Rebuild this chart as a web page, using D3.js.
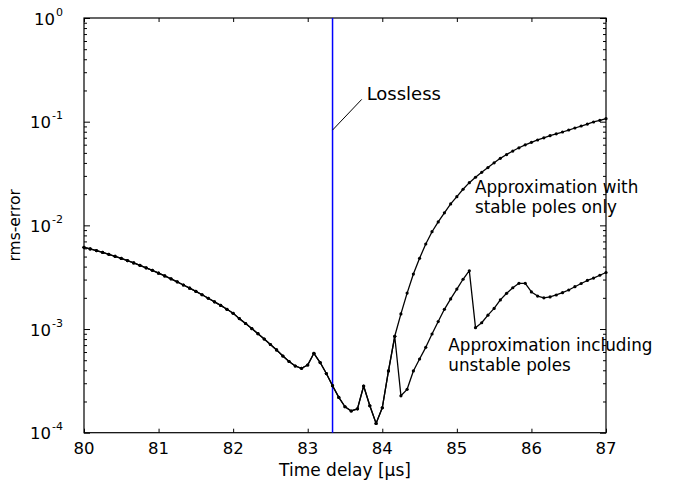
<!DOCTYPE html>
<html>
<head>
<meta charset="utf-8">
<script src="https://cdn.jsdelivr.net/npm/d3@7"></script>
<style>
  html, body { margin: 0; padding: 0; background: #fff; }
  svg text { font-family: "DejaVu Sans", "Liberation Sans", sans-serif; fill: #000; }
</style>
</head>
<body>
<svg id="chart" width="679" height="487"></svg>
<script>
// ---- data ----
const xTicks = [80, 81, 82, 83, 84, 85, 86, 87];
const yTickExponents = [0, -1, -2, -3, -4];
const losslessDelay = 83.333;

// time delay samples [µs]
const times = [
  80.000, 80.083, 80.167, 80.250, 80.333, 80.417, 80.500, 80.583, 80.667, 80.750, 80.833, 80.917,
  81.000, 81.083, 81.167, 81.250, 81.333, 81.417, 81.500, 81.583, 81.667, 81.750, 81.833, 81.917,
  82.000, 82.083, 82.167, 82.250, 82.333, 82.417, 82.500, 82.583, 82.667, 82.750, 82.833, 82.917,
  83.000, 83.083, 83.167, 83.250, 83.333, 83.417, 83.500, 83.583, 83.667, 83.750, 83.833, 83.917,
  84.000, 84.083, 84.167, 84.250, 84.333, 84.417, 84.500, 84.583, 84.667, 84.750, 84.833, 84.917,
  85.000, 85.083, 85.167, 85.250, 85.333, 85.417, 85.500, 85.583, 85.667, 85.750, 85.833, 85.917,
  86.000, 86.083, 86.167, 86.250, 86.333, 86.417, 86.500, 86.583, 86.667, 86.750, 86.833, 86.917,
  87.000
];

// rms-error common to both approximations (80.000 ... 84.167)
const sharedError = [
  6.14e-3, 5.93e-3, 5.71e-3, 5.48e-3, 5.26e-3, 5.03e-3, 4.80e-3, 4.57e-3, 4.34e-3, 4.12e-3,
  3.89e-3, 3.68e-3, 3.46e-3, 3.25e-3, 3.05e-3, 2.85e-3, 2.66e-3, 2.48e-3, 2.31e-3, 2.14e-3,
  1.98e-3, 1.83e-3, 1.69e-3, 1.55e-3, 1.42e-3, 1.26e-3, 1.13e-3, 1.01e-3, 9.01e-4, 8.01e-4,
  7.09e-4, 6.28e-4, 5.49e-4, 4.86e-4, 4.40e-4, 4.18e-4, 4.50e-4, 5.83e-4, 4.75e-4, 3.72e-4,
  2.84e-4, 2.19e-4, 1.78e-4, 1.62e-4, 1.70e-4, 2.82e-4, 1.82e-4, 1.23e-4, 1.74e-4, 3.94e-4,
  8.51e-4
];

// stable poles only (84.250 ... 87.000)
const stableTail = [
  1.40e-3, 2.22e-3, 3.39e-3, 4.81e-3, 6.61e-3, 8.68e-3, 1.08e-2, 1.32e-2, 1.61e-2, 1.89e-2,
  2.23e-2, 2.58e-2, 2.91e-2, 3.25e-2, 3.61e-2, 4.01e-2, 4.43e-2, 4.82e-2, 5.21e-2, 5.60e-2,
  5.98e-2, 6.32e-2, 6.66e-2, 6.99e-2, 7.32e-2, 7.64e-2, 7.95e-2, 8.31e-2, 8.69e-2, 9.08e-2,
  9.49e-2, 9.93e-2, 1.03e-1, 1.07e-1
];

// including unstable poles (84.250 ... 87.000)
const unstableTail = [
  2.27e-4, 2.62e-4, 3.94e-4, 5.14e-4, 6.66e-4, 8.95e-4, 1.18e-3, 1.55e-3, 1.95e-3, 2.43e-3,
  3.02e-3, 3.65e-3, 1.03e-3, 1.15e-3, 1.36e-3, 1.58e-3, 1.91e-3, 2.21e-3, 2.50e-3, 2.76e-3,
  2.76e-3, 2.28e-3, 2.08e-3, 2.00e-3, 2.04e-3, 2.13e-3, 2.24e-3, 2.38e-3, 2.56e-3, 2.75e-3,
  2.94e-3, 3.10e-3, 3.30e-3, 3.51e-3
];

const stableError = sharedError.concat(stableTail);
const unstableError = sharedError.concat(unstableTail);

// ---- layout ----
const W = 679, H = 487;
const margin = { left: 84, right: 73, top: 18, bottom: 54.3 };
const svg = d3.select("#chart");

const x = d3.scaleLinear().domain([80, 87]).range([margin.left, W - margin.right]);
const y = d3.scaleLog().domain([1e-4, 1]).range([H - margin.bottom, margin.top]);

const x0 = x.range()[0], x1 = x.range()[1];
const yb = y.range()[0], yt = y.range()[1];

// minor log ticks
const minorVals = [];
for (let e = -4; e < 0; e++) for (let k = 2; k <= 9; k++) minorVals.push(k * Math.pow(10, e));
const majorVals = yTickExponents.map(e => Math.pow(10, e));

// bottom and top x ticks
const xAxisB = d3.axisBottom(x).tickValues(xTicks).tickSizeInner(-4).tickSizeOuter(0).tickFormat("");
const xAxisT = d3.axisTop(x).tickValues(xTicks).tickSizeInner(-4).tickSizeOuter(0).tickFormat("");
svg.append("g").attr("transform", `translate(0,${yb})`).call(xAxisB).call(g => g.select(".domain").remove());
svg.append("g").attr("transform", `translate(0,${yt})`).call(xAxisT).call(g => g.select(".domain").remove());

// left/right y ticks
const yAxisL = d3.axisLeft(y).tickValues(majorVals).tickSizeInner(-6).tickSizeOuter(0).tickFormat("");
const yAxisR = d3.axisRight(y).tickValues(majorVals).tickSizeInner(-6).tickSizeOuter(0).tickFormat("");
const yAxisLm = d3.axisLeft(y).tickValues(minorVals).tickSizeInner(-3).tickSizeOuter(0).tickFormat("");
const yAxisRm = d3.axisRight(y).tickValues(minorVals).tickSizeInner(-3).tickSizeOuter(0).tickFormat("");
[[yAxisL, x0], [yAxisLm, x0], [yAxisR, x1], [yAxisRm, x1]].forEach(([ax, tx]) => {
  svg.append("g").attr("transform", `translate(${tx},0)`).call(ax).call(g => g.select(".domain").remove());
});
svg.selectAll(".tick line").attr("stroke", "#000").attr("stroke-width", 1);

// box
svg.append("rect").attr("x", x0).attr("y", yt).attr("width", x1 - x0).attr("height", yb - yt)
  .attr("fill", "none").attr("stroke", "#000").attr("stroke-width", 1.2);

// x tick labels
svg.append("g").selectAll("text").data(xTicks).join("text")
  .attr("x", d => x(d)).attr("y", yb + 21.5)
  .attr("text-anchor", "middle").attr("font-size", 16.5).text(d => d);

// y tick labels 10^e
const yl = svg.append("g").selectAll("text").data(yTickExponents).join("text")
  .attr("x", x0 - 21).attr("y", d => y(Math.pow(10, d)) + 6.5)
  .attr("text-anchor", "end").attr("font-size", 16.5);
yl.append("tspan").text("10");
yl.append("tspan").attr("font-size", 11).attr("dy", -9).attr("dx", 1).text(d => d === 0 ? "0" : "-" + Math.abs(d));

// axis titles
svg.append("text").attr("x", (x0 + x1) / 2).attr("y", yb + 43)
  .attr("text-anchor", "middle").attr("font-size", 17).text("Time delay [µs]");
svg.append("text").attr("transform", `translate(20,${(yt + yb) / 2}) rotate(-90)`)
  .attr("text-anchor", "middle").attr("font-size", 15.5).text("rms-error");

// lossless line
svg.append("line").attr("x1", x(losslessDelay)).attr("x2", x(losslessDelay))
  .attr("y1", yt).attr("y2", yb).attr("stroke", "#0000ff").attr("stroke-width", 1.5);

// curves
const line = d3.line().x((d, i) => x(times[i])).y(d => y(d));
const series = [unstableError, stableError];
series.forEach(s => {
  svg.append("path").datum(s).attr("d", line).attr("fill", "none")
    .attr("stroke", "#000").attr("stroke-width", 1.3).attr("stroke-linejoin", "round");
  svg.append("g").selectAll("circle").data(s).join("circle")
    .attr("cx", (d, i) => x(times[i])).attr("cy", d => y(d)).attr("r", 1.6).attr("fill", "#000");
});

// annotations
svg.append("line").attr("x1", x(losslessDelay)).attr("y1", y(0.083))
  .attr("x2", x(83.724)).attr("y2", y(0.164)).attr("stroke", "#000").attr("stroke-width", 1);
svg.append("text").attr("x", x(83.79)).attr("y", y(0.162)).attr("font-size", 18).text("Lossless");

function twoLines(tx, ty, l1, l2, size, gap) {
  svg.append("text").attr("x", tx).attr("y", ty).attr("font-size", size).text(l1);
  svg.append("text").attr("x", tx).attr("y", ty + gap).attr("font-size", size).text(l2);
}
twoLines(x(85.243), 193, "Approximation with", "stable poles only", 16.8, 19.5);
twoLines(x(84.885), 351, "Approximation including", "unstable poles", 16.8, 19.5);
</script>
</body>
</html>
